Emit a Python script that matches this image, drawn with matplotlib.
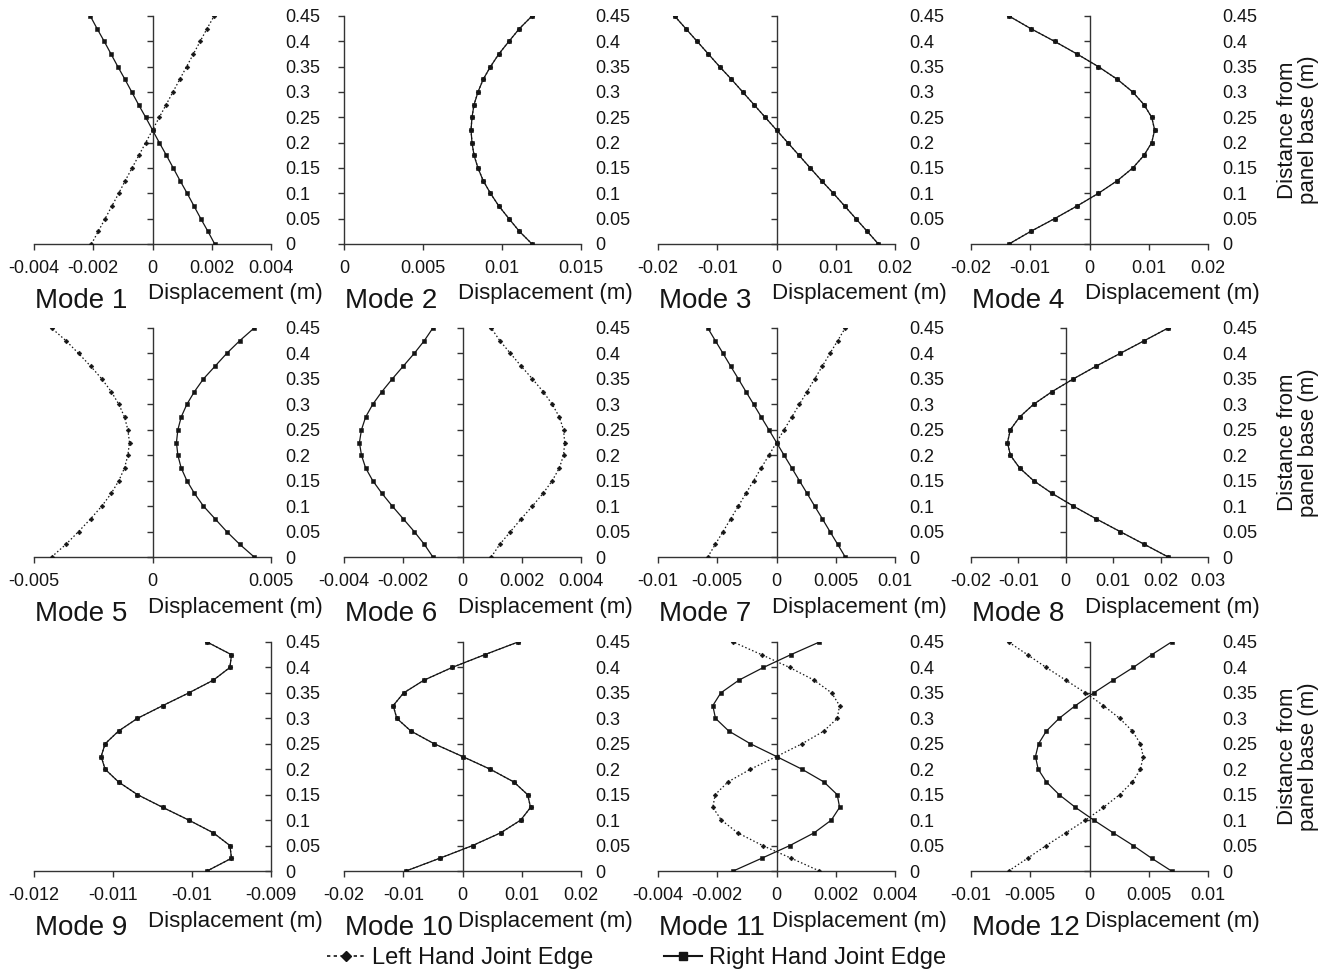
import numpy as np
import matplotlib.pyplot as plt
from matplotlib.ticker import FuncFormatter
from matplotlib.lines import Line2D

plt.rcParams['font.family'] = ['Liberation Sans', 'DejaVu Sans']

# distance from panel base (m), same for every mode
heights = [0.0, 0.025, 0.05, 0.075, 0.1, 0.125, 0.15, 0.175, 0.2, 0.225,
           0.25, 0.275, 0.3, 0.325, 0.35, 0.375, 0.4, 0.425, 0.45]

# displacement (m) of right hand / left hand joint edge for each mode
right_1 = [0.0021, 0.00187, 0.00163, 0.0014, 0.00117, 0.00093, 0.0007, 0.00047, 0.00023, 0.0,
           -0.00023, -0.00047, -0.0007, -0.00093, -0.00117, -0.0014, -0.00163, -0.00187, -0.0021]
left_1 = [-0.00206, -0.00183, -0.0016, -0.00137, -0.00114, -0.00092, -0.00069, -0.00046, -0.00023, 0.0,
          0.00023, 0.00046, 0.00069, 0.00092, 0.00115, 0.00138, 0.00161, 0.00184, 0.00208]

right_2 = [0.0119, 0.0111, 0.01044, 0.0098, 0.00927, 0.00881, 0.00848, 0.00823, 0.0081, 0.00804,
           0.0081, 0.00823, 0.00848, 0.00881, 0.00927, 0.0098, 0.01044, 0.0111, 0.0119]
left_2 = list(right_2)

right_3 = [0.0172, 0.0153, 0.0134, 0.0115, 0.0096, 0.0076, 0.0057, 0.0038, 0.0019, 0.0,
           -0.0019, -0.0038, -0.0057, -0.0076, -0.0096, -0.0115, -0.0134, -0.0153, -0.0172]
left_3 = list(right_3)

right_4 = [-0.0136, -0.0099, -0.0059, -0.0021, 0.0015, 0.0047, 0.0073, 0.0092, 0.0105, 0.011,
           0.0105, 0.0092, 0.0073, 0.0047, 0.0015, -0.0021, -0.0059, -0.0099, -0.0136]
left_4 = list(right_4)

right_5 = [0.00429, 0.00368, 0.00313, 0.00264, 0.00215, 0.00177, 0.00145, 0.00121, 0.00107, 0.00101,
           0.00107, 0.00121, 0.00145, 0.00177, 0.00215, 0.00264, 0.00313, 0.00368, 0.00429]
left_5 = [-0.00426, -0.00365, -0.00312, -0.00261, -0.00214, -0.00174, -0.00142, -0.00118, -0.00104, -0.00097,
          -0.00104, -0.00118, -0.00142, -0.00174, -0.00214, -0.00261, -0.00312, -0.00365, -0.00426]

right_6 = [-0.001, -0.00129, -0.00163, -0.002, -0.00237, -0.00272, -0.00303, -0.00327, -0.00341, -0.00348,
           -0.00341, -0.00327, -0.00303, -0.00272, -0.00237, -0.002, -0.00163, -0.00129, -0.001]
left_6 = [0.00097, 0.00126, 0.00162, 0.00198, 0.00236, 0.00272, 0.00303, 0.00327, 0.00341, 0.00345,
          0.00341, 0.00327, 0.00303, 0.00272, 0.00236, 0.00198, 0.00162, 0.00126, 0.00097]

right_7 = [0.0058, 0.00516, 0.00451, 0.00387, 0.00322, 0.00258, 0.00193, 0.00129, 0.00064, 0.0,
           -0.00064, -0.00129, -0.00193, -0.00258, -0.00322, -0.00387, -0.00451, -0.00516, -0.0058]
left_7 = [-0.0058, -0.00516, -0.00451, -0.00387, -0.00322, -0.00258, -0.00193, -0.00129, -0.00064, 0.0,
          0.00064, 0.00129, 0.00193, 0.00258, 0.00322, 0.00387, 0.00451, 0.00516, 0.0058]

right_8 = [0.0216, 0.01655, 0.01145, 0.0064, 0.0016, -0.0029, -0.0068, -0.00975, -0.0117, -0.0123,
           -0.0117, -0.00975, -0.0068, -0.0029, 0.0016, 0.0064, 0.01145, 0.01655, 0.0216]
left_8 = list(right_8)

right_9 = [-0.00981, -0.0095, -0.00952, -0.00973, -0.01004, -0.01037, -0.01069, -0.01093, -0.0111, -0.01115,
           -0.0111, -0.01093, -0.01069, -0.01037, -0.01004, -0.00973, -0.00952, -0.0095, -0.00981]
left_9 = list(right_9)

right_10 = [-0.00954, -0.00385, 0.0017, 0.00644, 0.00982, 0.01149, 0.01099, 0.00866, 0.00468, 0.0,
            -0.00478, -0.00871, -0.01109, -0.0117, -0.00993, -0.0065, -0.00174, 0.00373, 0.00938]
left_10 = list(right_10)

right_11 = [-0.00146, -0.0005, 0.00045, 0.00127, 0.00185, 0.00213, 0.00205, 0.0016, 0.00086, 0.0,
            -0.00088, -0.00161, -0.00206, -0.00215, -0.00188, -0.00127, -0.00044, 0.00048, 0.00145]
left_11 = [0.00145, 0.0005, -0.00047, -0.00131, -0.00186, -0.00215, -0.00207, -0.00164, -0.00088, 0.0,
           0.00086, 0.0016, 0.00205, 0.00213, 0.00186, 0.00127, 0.00044, -0.0005, -0.00146]

right_12 = [0.00692, 0.00525, 0.00369, 0.002, 0.00036, -0.00119, -0.00256, -0.00364, -0.00433, -0.00456,
            -0.0043, -0.00364, -0.00256, -0.00119, 0.00036, 0.002, 0.00369, 0.00525, 0.00692]
left_12 = [-0.00683, -0.00523, -0.00366, -0.002, -0.00034, 0.00118, 0.00254, 0.00362, 0.0043, 0.00453,
           0.0043, 0.00362, 0.00254, 0.00118, -0.00034, -0.002, -0.00366, -0.00523, -0.00683]

rights = [right_1, right_2, right_3, right_4, right_5, right_6,
          right_7, right_8, right_9, right_10, right_11, right_12]
lefts = [left_1, left_2, left_3, left_4, left_5, left_6,
         left_7, left_8, left_9, left_10, left_11, left_12]
mode_names = ['Mode %d' % (i + 1) for i in range(12)]

x_ticks = [
    [-0.004, -0.002, 0, 0.002, 0.004],
    [0, 0.005, 0.01, 0.015],
    [-0.02, -0.01, 0, 0.01, 0.02],
    [-0.02, -0.01, 0, 0.01, 0.02],
    [-0.005, 0, 0.005],
    [-0.004, -0.002, 0, 0.002, 0.004],
    [-0.01, -0.005, 0, 0.005, 0.01],
    [-0.02, -0.01, 0, 0.01, 0.02, 0.03],
    [-0.012, -0.011, -0.01, -0.009],
    [-0.02, -0.01, 0, 0.01, 0.02],
    [-0.004, -0.002, 0, 0.002, 0.004],
    [-0.01, -0.005, 0, 0.005, 0.01],
]
y_cross = [0, 0, 0, 0, 0, 0, 0, 0, -0.009, 0, 0, 0]
y_ticks = [0, 0.05, 0.1, 0.15, 0.2, 0.25, 0.3, 0.35, 0.4, 0.45]

W, H = 1335, 974
col_left = [34, 344, 658, 971]
col_width = 237
row_top = [16, 328, 642]
row_bottom = [244, 557, 871]

ink = '#151515'
fig = plt.figure(figsize=(W / 100, H / 100), dpi=100)

fmt = FuncFormatter(lambda v, p: '%g' % round(v, 6))

for i in range(12):
    r, c = divmod(i, 4)
    ax = fig.add_axes([col_left[c] / W, 1 - row_bottom[r] / H,
                       col_width / W, (row_bottom[r] - row_top[r]) / H])
    ax.plot(lefts[i], heights, color=ink, ls=(0, (1.2, 1.8)), lw=0.9,
            marker='D', ms=2.4, mew=0.4, zorder=3)
    ax.plot(rights[i], heights, color=ink, ls='-', lw=0.9,
            marker='s', ms=3.0, mew=0.4, zorder=4)
    ax.set_xlim(x_ticks[i][0], x_ticks[i][-1])
    ax.set_ylim(0, 0.45)
    ax.set_xticks(x_ticks[i])
    ax.set_yticks(y_ticks)
    ax.xaxis.set_major_formatter(fmt)
    ax.yaxis.set_major_formatter(fmt)
    for s in ['top', 'right']:
        ax.spines[s].set_visible(False)
    ax.spines['left'].set_position(('data', y_cross[i]))
    for s in ['left', 'bottom']:
        ax.spines[s].set_color('#333333')
        ax.spines[s].set_linewidth(1.0)
    ax.tick_params(axis='y', left=True, right=False, labelleft=False, labelright=True,
                   direction='out', length=4, width=1, color='#333333', pad=6.5,
                   labelsize=13, labelcolor=ink)
    ax.tick_params(axis='x', direction='out', length=4, width=1, color='#333333',
                   pad=7.5, labelsize=13, labelcolor=ink)
    ax.patch.set_alpha(0)
    ax.annotate(mode_names[i], xy=(0, 0), xycoords='axes fraction',
                xytext=(1, -41), textcoords='offset points',
                ha='left', va='center', fontsize=20, color=ink)
    ax.annotate('Displacement (m)', xy=(1, 0), xycoords='axes fraction',
                xytext=(37, -36), textcoords='offset points',
                ha='right', va='center', fontsize=16, color=ink)
    if c == 3:
        ax.text(1.38, 0.5, 'Distance from\npanel base (m)', transform=ax.transAxes,
                rotation=90, ha='center', va='center', multialignment='center',
                fontsize=16, color=ink, linespacing=1.0)

handles = [Line2D([], [], color=ink, ls=(0, (2, 2)), lw=1.2, marker='D', ms=5),
           Line2D([], [], color=ink, ls='-', lw=1.5, marker='s', ms=6)]
fig.legend(handles, ['Left Hand Joint Edge', 'Right Hand Joint Edge'],
           loc='center', bbox_to_anchor=(0.477, 0.0164), ncol=2, frameon=False,
           fontsize=17, handlelength=1.6, handletextpad=0.3, columnspacing=3.0,
           labelcolor=ink)

fig.savefig('out.png', dpi=100, facecolor='white')
